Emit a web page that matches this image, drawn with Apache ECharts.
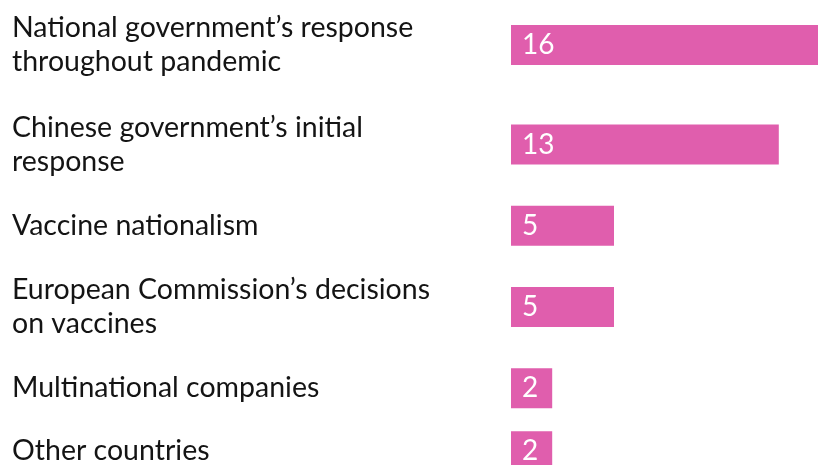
<!DOCTYPE html>
<html>
<head>
<meta charset="utf-8">
<script src="https://cdn.jsdelivr.net/npm/echarts@6/dist/echarts.min.js"></script>
<style>
  html, body { margin: 0; padding: 0; background: #ffffff; }
  #chart { width: 818px; height: 465px; }
</style>
</head>
<body>
<div id="chart"></div>
<script>
// Who is blamed: share of mentions by target
const categories = [
  'National government’s response\nthroughout pandemic',
  'Chinese government’s initial\nresponse',
  'Vaccine nationalism',
  'European Commission’s decisions\non vaccines',
  'Multinational companies',
  'Other countries'
];
const values = [16, 13, 5, 5, 2, 2];

// Layout constants
const BAR_COLOR = '#E05EAD';
const TEXT_COLOR = '#141414';
const FONT = 'Lato, "Liberation Sans", sans-serif';
const LABEL_X = 12;
const PLOT_LEFT = 511;
const PX_PER_UNIT = 20.6;
const AXIS_MAX = 16;
const ROW_ONE_LINE = 63;
const ROW_TWO_LINE = 99.5;
const FIRST_ROW_TOP = -4.75;

// One small grid per row so that two-line labels get taller rows
const grids = [], xAxes = [], yAxes = [], series = [];
let rowTop = FIRST_ROW_TOP;
categories.forEach((cat, i) => {
  const lines = cat.split('\n').length;
  const h = lines > 1 ? ROW_TWO_LINE : ROW_ONE_LINE;
  grids.push({
    left: PLOT_LEFT, top: rowTop, width: AXIS_MAX * PX_PER_UNIT, height: h,
    containLabel: false, outerBoundsMode: 'none'
  });
  xAxes.push({
    type: 'value', gridIndex: i, min: 0, max: AXIS_MAX,
    show: false
  });
  yAxes.push({
    type: 'category', gridIndex: i, data: [cat],
    axisLine: { show: false }, axisTick: { show: false }, splitLine: { show: false },
    axisLabel: {
      align: 'left', margin: PLOT_LEFT - LABEL_X,
      color: TEXT_COLOR, fontFamily: FONT, fontSize: 28.5, lineHeight: 34
    }
  });
  series.push({
    type: 'bar', xAxisIndex: i, yAxisIndex: i,
    data: [values[i]], barWidth: 40, silent: true,
    itemStyle: { color: BAR_COLOR },
    label: {
      show: true, position: 'insideLeft', distance: 11,
      color: '#ffffff', fontFamily: FONT, fontSize: 28
    }
  });
  rowTop += h;
});

const chart = echarts.init(document.getElementById('chart'), null, { renderer: 'canvas' });
chart.setOption({
  animation: false,
  backgroundColor: '#ffffff',
  grid: grids, xAxis: xAxes, yAxis: yAxes, series: series
});
</script>
</body>
</html>
